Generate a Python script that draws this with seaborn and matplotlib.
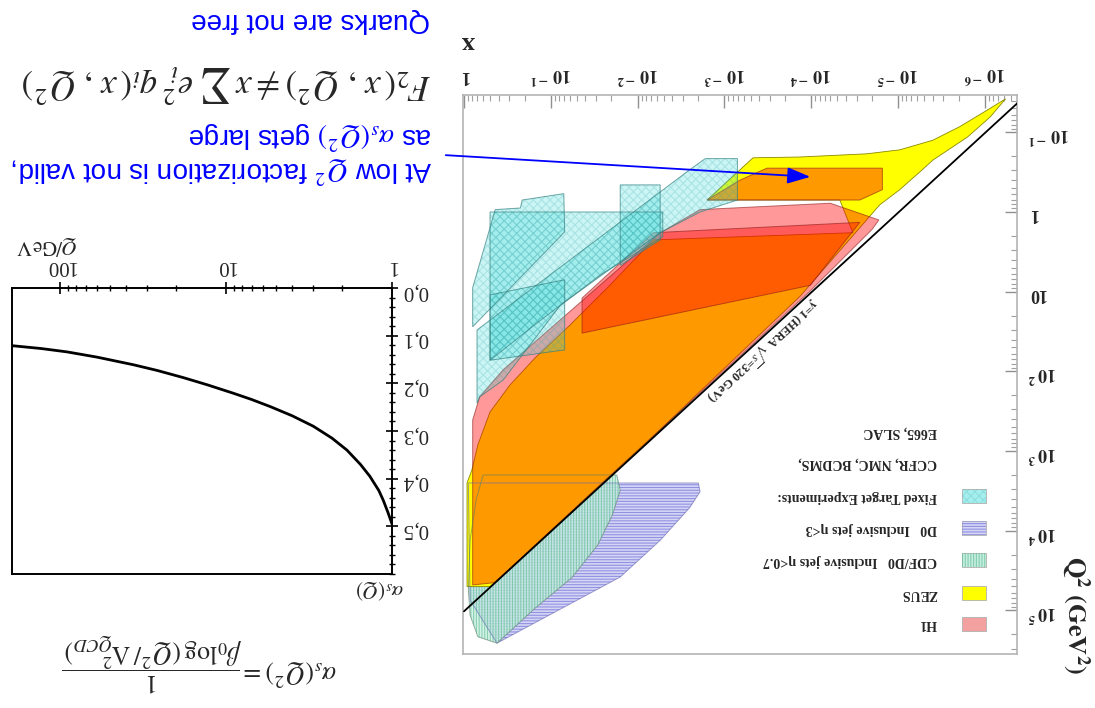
import numpy as np
import pandas as pd
import matplotlib
matplotlib.use("Agg")
import matplotlib.pyplot as plt
import seaborn as sns
from matplotlib.patches import Rectangle, FancyArrowPatch
from matplotlib.ticker import FixedLocator, FixedFormatter, NullFormatter, MultipleLocator, LogLocator

# ---------------- running coupling alpha_s(Q) ----------------
ALPHA_Q = [1.0, 1.06, 1.13, 1.2, 1.36, 1.55, 1.87, 2.3, 2.98, 4.0, 5.4, 7.0,
           9.0, 13.0, 18.1, 26.0, 36.2, 60.0, 91.0, 130.0, 195.0]
ALPHA_S = [0.495, 0.470, 0.445, 0.425, 0.395, 0.370, 0.340, 0.315, 0.290, 0.268,
           0.249, 0.234, 0.221, 0.203, 0.188, 0.173, 0.161, 0.145, 0.134, 0.127, 0.121]
ALPHA_TICKS = [0.0, 0.1, 0.2, 0.3, 0.4, 0.5]
ALPHA_TICK_LABELS = ["0,0", "0,1", "0,2", "0,3", "0,4", "0,5"]
Q_TICKS = [1, 10, 100]
Q_TICK_LABELS = ["1", "10", "100"]

# ---------------- kinematic plane (log10 x, log10 Q^2) ----------------
ZEUS_LX = [-6.24, -6.00, -5.71, -5.40, -5.02, -4.64, -3.87, -3.33, -2.80, -4.33, -4.48,
           -2.18, -1.68, -1.22, -0.82, -0.53, -0.30, -0.16, -0.09, -0.035, -0.035, -0.30,
           -2.11, -2.72, -3.87, -4.79, -5.02, -5.28, -5.40, -5.80, -6.06]
ZEUS_LQ = [-1.42, -1.26, -1.07, -0.90, -0.78, -0.73, -0.69, -0.68, -0.15, -0.15, 0.26,
           0.35, 0.92, 1.42, 1.83, 2.17, 2.51, 2.92, 3.24, 3.40, 4.70, 4.70,
           2.89, 2.25, 1.06, -0.09, -0.28, -0.53, -0.65, -0.94, -1.19]

H1_MAIN_LX = [-0.10, -0.10, -0.18, -0.45, -2.26, -2.72, -4.22, -4.78, -4.70, -3.99,
              -2.72, -1.57, -0.36]
H1_MAIN_LQ = [4.68, 2.61, 2.32, 1.98, 0.26, -0.03, -0.11, 0.10, 0.22, 0.99,
              2.27, 3.42, 4.65]
H1_MID_LX = [-1.36, -1.36, -2.18, -4.56, -3.99]
H1_MID_LQ = [1.52, 1.08, 0.26, 0.13, 0.92]
H1_LOW_LX = [-3.18, -3.49, -4.82, -4.82, -4.56, -2.80]
H1_LOW_LQ = [-0.40, -0.55, -0.55, -0.28, -0.15, -0.15]

FT_SLAC_LX = [-0.10, -0.10, -0.36, -0.65, -0.67, -1.15, -1.16]
FT_SLAC_LQ = [1.44, 0.95, -0.03, -0.05, -0.15, -0.23, 0.25]
FT_NMC_LX = [-0.30, -2.29, -2.29, -1.57, -0.88, -0.30]
FT_NMC_LQ = [0.00, 0.00, 0.31, 0.79, 1.36, 1.86]
FT_E665_LX = [-0.15, -2.60, -2.78, -3.15, -3.15, -2.72, -2.26, -1.11, -0.45, -0.18, -0.15]
FT_E665_LQ = [1.48, -0.53, -0.67, -0.67, -0.15, 0.00, 0.26, 1.17, 2.11, 2.32, 2.40]
FT_BCDMS_LX = [-0.30, -1.16, -1.16, -0.30]
FT_BCDMS_LQ = [1.04, 0.85, 1.73, 1.86]
FT_CCFR_LX = [-1.80, -2.26, -2.26, -1.80]
FT_CCFR_LQ = [-0.34, -0.34, 0.35, 0.67]

CDF_LX = [-0.22, -1.76, -1.80, -1.71, -1.54, -1.24, -0.82, -0.38, -0.16, -0.07, -0.05, -0.07, -0.14]
CDF_LQ = [3.30, 3.30, 3.49, 3.80, 4.18, 4.59, 4.97, 5.41, 5.33, 5.06, 4.74, 4.12, 3.61]
D0_LX = [-0.05, -2.70, -2.72, -2.60, -2.26, -1.80, -0.38, -0.07]
D0_LQ = [3.40, 3.40, 3.51, 3.71, 4.12, 4.58, 5.41, 4.87]

HERA_X = [1.0, 3.0e-7]
HERA_Q2 = [102400.0, 0.0307]

KX_TICKS = [1.0, 1e-1, 1e-2, 1e-3, 1e-4, 1e-5, 1e-6]
KX_TICK_LABELS = ["1", r"$\mathbf{10^{\ -1}}$", r"$\mathbf{10^{\ -2}}$", r"$\mathbf{10^{\ -3}}$",
                  r"$\mathbf{10^{\ -4}}$", r"$\mathbf{10^{\ -5}}$", r"$\mathbf{10^{\ -6}}$"]
KQ_TICKS = [1e-1, 1.0, 10.0, 1e2, 1e3, 1e4, 1e5]
KQ_TICK_LABELS = [r"$\mathbf{10^{\ -1}}$", "1", "10", r"$\mathbf{10^{\ 2}}$",
                  r"$\mathbf{10^{\ 3}}$", r"$\mathbf{10^{\ 4}}$", r"$\mathbf{10^{\ 5}}$"]

LEGEND_LABELS = ["H1", "ZEUS", "CDF/D0   Inclusive jets \u03b7<0.7", "D0   Inclusive jets \u03b7<3",
                 "Fixed Target Experiments:", "CCFR, NMC, BCDMS,", "E665, SLAC"]

# ---------------- style ----------------
sns.set_theme(style="ticks")
plt.rcParams["font.family"] = ["Liberation Serif", "DejaVu Serif"]
plt.rcParams["mathtext.fontset"] = "stix"
plt.rcParams["hatch.linewidth"] = 0.8

W, H = 1095, 708
fig = plt.figure(figsize=(W / 100, H / 100), dpi=100)
fig.patch.set_facecolor("white")


def box(l, t, r, b):
    return [l / W, 1 - b / H, (r - l) / W, (b - t) / H]


def fpos(px, py):
    return px / W, 1 - py / H


# ---------------- alpha_s panel ----------------
axA = fig.add_axes(box(12, 288, 392, 574))
df = pd.DataFrame({"Q": ALPHA_Q, "alpha": ALPHA_S})
sns.lineplot(data=df, x="Q", y="alpha", ax=axA, color="black", linewidth=2.0, sort=True)
axA.set_xscale("log")
axA.set_xlim(195, 1)
axA.set_ylim(0.6, 0.0)
axA.set_xlabel("")
axA.set_ylabel("")
axA.xaxis.tick_top()
axA.yaxis.tick_right()
axA.xaxis.set_major_locator(FixedLocator(Q_TICKS))
axA.xaxis.set_major_formatter(FixedFormatter(Q_TICK_LABELS))
axA.xaxis.set_minor_locator(LogLocator(base=10, subs=np.arange(2, 10)))
axA.xaxis.set_minor_formatter(NullFormatter())
axA.yaxis.set_major_locator(FixedLocator(ALPHA_TICKS))
axA.yaxis.set_major_formatter(FixedFormatter(ALPHA_TICK_LABELS))
axA.yaxis.set_minor_locator(MultipleLocator(0.02))
axA.tick_params(which="major", direction="inout", length=9, width=1.2, color="black",
                labelsize=15, labelrotation=180, pad=3)
axA.tick_params(which="minor", direction="inout", length=5, width=1.0, color="black")
axA.tick_params(axis="x", pad=5)
for s in axA.spines.values():
    s.set_color("black")
    s.set_linewidth(1.4)
    s.set_visible(True)

fig.text(*fpos(47, 246), r"$Q/\mathrm{GeV}$", rotation=180, ha="center", va="center", fontsize=15)
fig.text(*fpos(380, 590), r"$\alpha_s(Q)$", rotation=180, ha="center", va="center", fontsize=15)
fig.text(*fpos(200, 662),
         r"$\alpha_s(Q^2)=\dfrac{1}{\beta_0\mathrm{log}\,(Q^2/\,\Lambda^2_{QCD})}$",
         rotation=180, ha="center", va="center", fontsize=18.5)

# ---------------- kinematic plane ----------------
axK = fig.add_axes(box(463, 95, 1017, 654))
axK.set_xscale("log")
axK.set_yscale("log")
axK.set_xlim(10 ** 0.0115, 10 ** -6.371)
axK.set_ylim(10 ** 5.546, 10 ** -1.468)
axK.set_facecolor("white")


def region(lx, lq, face, alpha, edge, lw=0.7, hatch=None, hatch_color=None, z=2,
           edge_z=None):
    xs = 10.0 ** np.asarray(lx)
    qs = 10.0 ** np.asarray(lq)
    axK.fill(xs, qs, facecolor=face, alpha=alpha, edgecolor="none", zorder=z)
    if hatch:
        axK.fill(xs, qs, facecolor="none", edgecolor=hatch_color, hatch=hatch,
                 linewidth=0, zorder=z + 0.1)
    axK.fill(xs, qs, facecolor="none", edgecolor=edge, linewidth=lw,
             zorder=(z + 0.2) if edge_z is None else edge_z)


ZEUS_C = "#ffff00"
H1_C = "#ff0000"
FT_C = "#33d9d9"
FT_HATCH = (0.2, 0.65, 0.65, 0.22)
CDF_C = "#c6eee0"
D0_C = "#d6d6f4"
D0_HATCH = (0.50, 0.50, 0.88, 0.8)
CDF_HATCH = (0.40, 0.76, 0.60, 0.7)

# jet regions lie underneath the HERA regions
region(D0_LX, D0_LQ, D0_C, 1.0, (0.4, 0.4, 0.7, 0.6), lw=0.7,
       hatch="------", hatch_color=D0_HATCH, z=1.0, edge_z=7)
region(CDF_LX, CDF_LQ, CDF_C, 0.75, (0.35, 0.5, 0.4, 0.6), lw=0.7,
       hatch="||||||", hatch_color=CDF_HATCH, z=1.5, edge_z=7)

region(ZEUS_LX, ZEUS_LQ, ZEUS_C, 1.0, "#8a8a00", lw=0.6, z=2)
for lx, lq in [(H1_MAIN_LX, H1_MAIN_LQ), (H1_MID_LX, H1_MID_LQ), (H1_LOW_LX, H1_LOW_LQ)]:
    region(lx, lq, H1_C, 0.4, (0.55, 0.1, 0.1, 0.6), lw=0.7, z=3)
for lx, lq in [(FT_SLAC_LX, FT_SLAC_LQ), (FT_NMC_LX, FT_NMC_LQ), (FT_E665_LX, FT_E665_LQ),
               (FT_BCDMS_LX, FT_BCDMS_LQ), (FT_CCFR_LX, FT_CCFR_LQ)]:
    region(lx, lq, FT_C, 0.25, (0.2, 0.5, 0.5, 0.7), lw=0.7, z=4,
           hatch="xxxx", hatch_color=FT_HATCH)

axK.plot(HERA_X, HERA_Q2, color="black", linewidth=1.3, zorder=8)

# text along the y=1 line
fig.canvas.draw()
p0 = axK.transData.transform((1e-2, 1024.0))
p1 = axK.transData.transform((1e-5, 1.024))
ang = np.degrees(np.arctan2(p1[1] - p0[1], p1[0] - p0[0])) + 180.0
axK.text(3.6e-4, 54.0, r"$\mathbf{y}$=1 (HERA $\sqrt{s}$=320 GeV)", rotation=ang,
         rotation_mode="anchor", ha="center", va="center", fontsize=9,
         fontweight="bold", zorder=9)

axK.xaxis.tick_top()
axK.yaxis.tick_right()
axK.xaxis.set_major_locator(FixedLocator(KX_TICKS))
axK.xaxis.set_major_formatter(FixedFormatter(KX_TICK_LABELS))
axK.xaxis.set_minor_locator(LogLocator(base=10, subs=np.arange(2, 10), numticks=20))
axK.xaxis.set_minor_formatter(NullFormatter())
axK.yaxis.set_major_locator(FixedLocator(KQ_TICKS))
axK.yaxis.set_major_formatter(FixedFormatter(KQ_TICK_LABELS))
axK.yaxis.set_minor_locator(LogLocator(base=10, subs=np.arange(2, 10), numticks=20))
axK.yaxis.set_minor_formatter(NullFormatter())
axK.tick_params(which="major", direction="in", length=9, width=1.0, color="#909090",
                labelsize=13, labelrotation=180, pad=8)
axK.tick_params(which="minor", direction="in", length=4.5, width=0.8, color="#a0a0a0")
for lbl in axK.get_xticklabels() + axK.get_yticklabels():
    lbl.set_fontweight("bold")
for s in axK.spines.values():
    s.set_color("#b4b4b4")
    s.set_linewidth(1.2)

# legend drawn by hand (upside-down entries)
leg_styles = [
    dict(face="#f3a0a0", hatch=None, hc=None),
    dict(face=ZEUS_C, hatch=None, hc=None),
    dict(face=CDF_C, hatch="||||||", hc=CDF_HATCH),
    dict(face=D0_C, hatch="------", hc=D0_HATCH),
    dict(face="#a6eeee", hatch="xxxx", hc=FT_HATCH),
]
leg_rows_py = [624, 593, 560, 528, 496, 463, 432]
for i, (label, py) in enumerate(zip(LEGEND_LABELS, leg_rows_py)):
    if i < len(leg_styles):
        st = leg_styles[i]
        x0 = (962 - 463) / 554
        y0 = (654 - (py + 7)) / 559
        r = Rectangle((x0, y0), 24 / 554, 14 / 559, transform=axK.transAxes,
                      facecolor=st["face"], edgecolor="#b0b0b0", linewidth=0.6, zorder=10)
        axK.add_patch(r)
        if st["hatch"]:
            axK.add_patch(Rectangle((x0, y0), 24 / 554, 14 / 559, transform=axK.transAxes,
                                    facecolor="none", edgecolor=st["hc"], hatch=st["hatch"],
                                    linewidth=0, zorder=10.5))
    axK.text((937 - 463) / 554, (654 - py) / 559, label, transform=axK.transAxes,
             rotation=180, ha="right", va="center", fontsize=10, fontweight="bold", zorder=11)

fig.text(*fpos(468, 43), "x", rotation=180, ha="center", va="center",
         fontsize=19, fontweight="bold")
fig.text(*fpos(1075, 615), r"$\mathbf{Q^2\ (GeV^2)}$", rotation=270, ha="center",
         va="center", fontsize=19)

# ---------------- annotations ----------------
blue = "#0000ff"
sans = ["Liberation Sans", "DejaVu Sans"]
fig.text(*fpos(430, 20), "Quarks are not free", rotation=180, ha="right", va="center",
         fontsize=20, color=blue, family=sans)
fig.text(*fpos(432, 135), r"as $\alpha_s(Q^2)$ gets large", rotation=180, ha="right",
         va="center", fontsize=20, color=blue, family=sans)
fig.text(*fpos(432, 170), r"At low $Q^2$ factorization is not valid,", rotation=180,
         ha="right", va="center", fontsize=20, color=blue, family=sans)
fig.text(*fpos(226, 83), r"$F_2(\,x\;,\,Q^2)\neq x\,\sum\;e_i^2\,q_i(\,x\;,\,Q^2)$",
         rotation=180, ha="center", va="center", fontsize=25)

arrow = FancyArrowPatch(fpos(443, 155), fpos(813, 177), transform=fig.transFigure,
                        arrowstyle="-|>,head_length=0.7,head_width=0.25",
                        mutation_scale=20, color=blue, linewidth=1.3, zorder=20)
fig.add_artist(arrow)

fig.savefig("out.png", dpi=100, facecolor="white")
